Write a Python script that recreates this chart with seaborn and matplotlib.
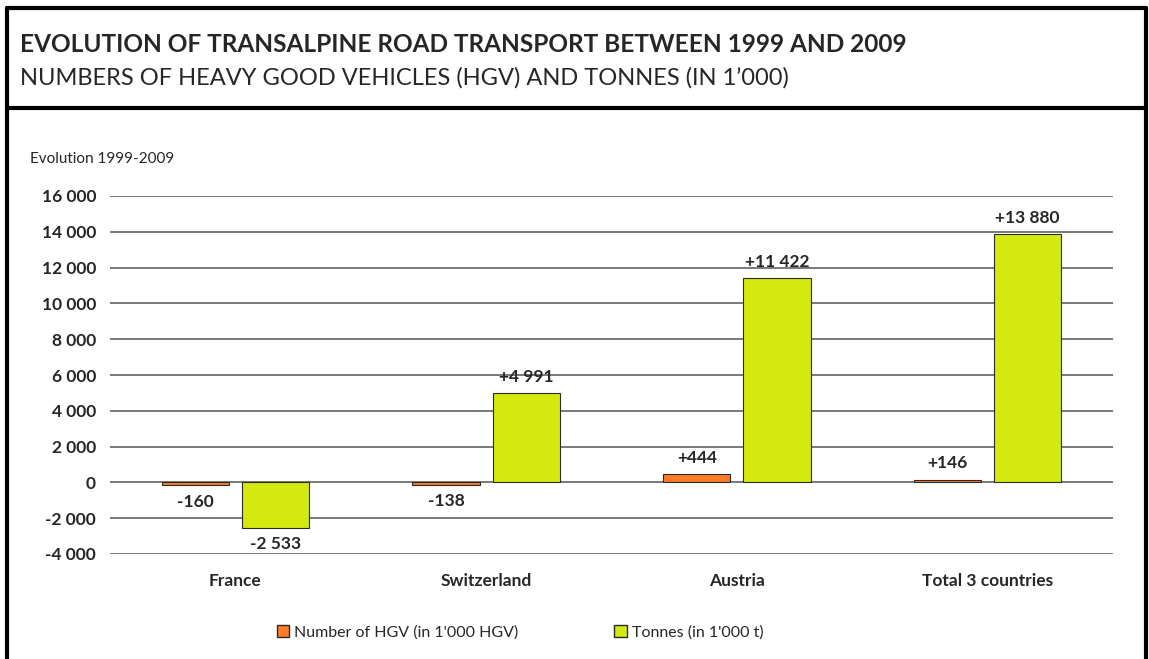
import matplotlib
matplotlib.use("Agg")
import matplotlib.pyplot as plt
import seaborn as sns
import pandas as pd
from matplotlib.lines import Line2D

# chart data
countries = ["France", "Switzerland", "Austria", "Total 3 countries"]
hgv = [-160, -138, 444, 146]
tonnes = [-2533, 4991, 11422, 13880]
series_names = ["Number of HGV (in 1'000 HGV)", "Tonnes (in 1'000 t)"]
y_ticks = [-4000, -2000, 0, 2000, 4000, 6000, 8000, 10000, 12000, 14000, 16000]

df = pd.DataFrame({
    "Country": countries * 2,
    "Value": hgv + tonnes,
    "Series": [series_names[0]] * 4 + [series_names[1]] * 4,
})

sns.set_style("white")
plt.rcParams["font.family"] = ["Lato", "DejaVu Sans"]

fig = plt.figure(figsize=(11.49, 6.59), dpi=100)
W, H = 1149, 659
ax = fig.add_axes([110 / W, 1 - 554 / H, (1113 - 110) / W, (554 - 196) / H])

palette = {series_names[0]: "#FF7B26", series_names[1]: "#D3E90F"}
sns.barplot(data=df, x="Country", y="Value", hue="Series", palette=palette,
            width=0.64, gap=0.16, edgecolor="#2a2a2a", linewidth=0.8,
            saturation=1, ax=ax, legend=False, zorder=3)

ax.set_ylim(-4000, 16000)
ax.set_yticks(y_ticks)
ax.set_yticklabels([f"{t:,}".replace(",", " ") for t in y_ticks],
                   fontsize=12.5, fontweight="bold")
ax.yaxis.grid(True, color="#6e6e6e", linewidth=1.3, zorder=0)
ax.set_axisbelow(True)
for s in ax.spines.values():
    s.set_visible(False)
ax.tick_params(axis="y", length=0, pad=10)
ax.tick_params(axis="x", length=0, pad=14, labelsize=12.5)
for lbl in ax.get_xticklabels():
    lbl.set_fontweight("bold")
ax.set_xlabel("")
ax.set_ylabel("")

for cont in ax.containers:
    vals = cont.datavalues
    ax.bar_label(cont, labels=[f"{v:+,.0f}".replace(",", " ") for v in vals],
                 padding=6, fontsize=12.5, fontweight="bold")

fig.text(30 / W, 1 - 159 / H, "Evolution 1999-2009", fontsize=11,
         va="center", ha="left")

# header
fig.text(20 / W, 1 - 45 / H,
         "EVOLUTION OF TRANSALPINE ROAD TRANSPORT BETWEEN 1999 AND 2009",
         fontsize=17.6, fontweight="bold", va="center", ha="left")
fig.text(20 / W, 1 - 78 / H,
         "NUMBERS OF HEAVY GOOD VEHICLES (HGV) AND TONNES (IN 1\u2019000)",
         fontsize=17, va="center", ha="left")

# frame lines
lw = 3
x0, x1 = 6.5 / W, 1145.5 / W
ytop, ysep = 1 - 7.5 / H, 1 - 107.5 / H
for xs, ys in [([x0, x1], [ytop, ytop]), ([x0, x1], [ysep, ysep]),
               ([x0, x0], [ytop, 0]), ([x1, x1], [ytop, 0])]:
    fig.add_artist(Line2D(xs, ys, color="black", linewidth=lw,
                          transform=fig.transFigure))

handles = [plt.Rectangle((0, 0), 1, 1, facecolor=palette[n], edgecolor="#2a2a2a")
           for n in series_names]
fig.legend(handles, series_names, loc="center", ncol=2,
           bbox_to_anchor=(520 / W, 1 - 632 / H), frameon=False,
           fontsize=11.5, handlelength=0.8, handleheight=0.8,
           handletextpad=0.3, columnspacing=6)

fig.savefig("out.png", dpi=100)
